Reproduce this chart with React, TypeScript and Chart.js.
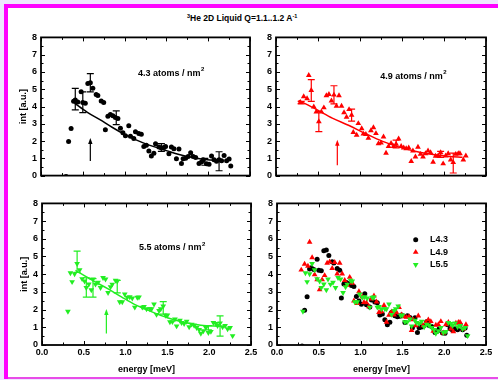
import React, { useEffect, useRef } from 'react';
import { Chart, registerables } from 'chart.js';

Chart.register(...registerables);

const FONT = '"Liberation Sans", Arial, Helvetica, sans-serif';
const BLACK = '#000000';
const RED = '#ff0000';
const GREEN = '#22ee22';

// ---- axis ticks ----
const X_MAJOR = [0, 0.5, 1.0, 1.5, 2.0, 2.5];
const X_LABELS = ['0.0', '0.5', '1.0', '1.5', '2.0', '2.5'];
const X_MINOR = [0.25, 0.75, 1.25, 1.75, 2.25];
const Y_MAJOR = [0, 1, 2, 3, 4, 5, 6, 7, 8];
const Y_LABELS = ['0', '1', '2', '3', '4', '5', '6', '7', '8'];
const Y_MINOR = [0.5, 1.5, 2.5, 3.5, 4.5, 5.5, 6.5, 7.5];

// ---- L4.3 (black) ----
const x43 = [0.30, 0.33, 0.36, 0.39, 0.41, 0.44, 0.48, 0.50, 0.53, 0.56, 0.59, 0.62, 0.66, 0.68, 0.72, 0.75, 0.77, 0.80, 0.83, 0.86, 0.89, 0.92, 0.95, 0.98, 1.01, 1.05, 1.07, 1.11, 1.13, 1.17, 1.20, 1.23, 1.26, 1.29, 1.32, 1.35, 1.37, 1.41, 1.44, 1.47, 1.49, 1.53, 1.56, 1.59, 1.62, 1.65, 1.68, 1.70, 1.73, 1.76, 1.79, 1.82, 1.85, 1.89, 1.92, 1.94, 1.98, 2.01, 2.04, 2.07, 2.10, 2.13, 2.16, 2.19, 2.22, 2.25, 2.27];
const y43 = [-0.05, 1.97, 2.72, 4.30, 4.37, 4.26, 4.85, 4.23, 4.19, 5.33, 5.37, 5.06, 4.70, 4.63, 4.32, 4.23, 2.65, 3.44, 3.53, 3.46, 3.36, 3.31, 2.74, 2.48, 2.30, 2.89, 2.28, 2.15, 2.54, 2.43, 2.39, 1.69, 1.75, 1.43, 1.14, 1.29, 1.84, 1.65, 1.60, 1.62, 1.69, 1.27, 1.65, 1.56, 0.97, 1.54, 0.70, 0.97, 1.01, 1.10, 1.32, 1.10, 1.05, 0.70, 0.79, 0.92, 0.68, 0.66, 1.14, 0.92, 0.83, 0.92, 0.86, 1.16, 0.86, 0.96, 0.55];
const ex43 = [0.41, 0.50, 0.59, 0.90, 1.44, 1.96, 2.13];
const elo43 = [3.80, 3.65, 4.85, 2.95, 1.40, 0.60, 0.28];
const ehi43 = [5.05, 4.85, 5.90, 3.75, 1.85, 1.00, 1.38];
const fx43 = [0.40, 0.55, 0.71, 0.85, 1.00, 1.23, 1.51, 1.75, 1.99, 2.11];
const fy43 = [4.19, 3.68, 3.22, 2.80, 2.39, 1.88, 1.43, 1.10, 0.92, 0.88];

// ---- L4.9 (red) ----
const x49 = [0.29, 0.33, 0.37, 0.39, 0.42, 0.45, 0.48, 0.51, 0.54, 0.57, 0.60, 0.63, 0.66, 0.69, 0.72, 0.75, 0.78, 0.81, 0.84, 0.87, 0.90, 0.92, 0.96, 0.98, 1.02, 1.04, 1.07, 1.10, 1.13, 1.16, 1.19, 1.22, 1.25, 1.28, 1.31, 1.34, 1.37, 1.40, 1.43, 1.46, 1.49, 1.52, 1.55, 1.58, 1.61, 1.63, 1.66, 1.69, 1.72, 1.75, 1.78, 1.81, 1.84, 1.87, 1.90, 1.93, 1.96, 1.99, 2.02, 2.05, 2.08, 2.11, 2.14, 2.17, 2.19, 2.23, 2.26];
const y49 = [4.24, 4.57, 4.46, 5.81, 4.94, 3.98, 3.69, 3.13, 3.69, 3.93, 4.63, 4.70, 4.33, 4.67, 4.02, 4.63, 4.02, 3.65, 3.39, 3.83, 3.50, 2.50, 2.35, 3.02, 2.72, 2.41, 2.39, 2.17, 2.61, 2.78, 2.44, 1.85, 1.89, 2.24, 1.30, 1.69, 1.87, 1.70, 1.83, 2.13, 1.70, 1.61, 1.57, 1.61, 0.83, 1.43, 1.09, 1.65, 1.24, 1.09, 1.28, 1.43, 1.33, 0.78, 1.13, 1.15, 1.33, 0.69, 1.15, 1.28, 0.91, 0.76, 1.24, 1.28, 1.28, 0.91, 1.15];
const ex49 = [0.30, 0.42, 0.51, 0.69, 0.90, 1.43, 1.96, 2.11];
const elo49 = [4.15, 4.30, 2.55, 4.15, 3.15, 1.60, 1.05, 0.15];
const ehi49 = [4.30, 5.55, 3.70, 5.20, 3.85, 2.05, 1.40, 1.30];
const fx49 = [0.27, 0.48, 0.67, 0.87, 1.07, 1.27, 1.47, 1.67, 1.87, 2.06, 2.22];
const fy49 = [4.35, 3.83, 3.33, 2.90, 2.42, 1.98, 1.65, 1.39, 1.22, 1.11, 1.06];

// ---- L5.5 (green) ----
const x55 = [0.31, 0.34, 0.36, 0.39, 0.42, 0.45, 0.48, 0.51, 0.53, 0.56, 0.59, 0.61, 0.64, 0.67, 0.70, 0.73, 0.76, 0.79, 0.82, 0.84, 0.88, 0.90, 0.93, 0.96, 0.99, 1.02, 1.05, 1.08, 1.11, 1.14, 1.16, 1.20, 1.22, 1.25, 1.29, 1.31, 1.34, 1.37, 1.40, 1.42, 1.45, 1.48, 1.50, 1.53, 1.56, 1.59, 1.61, 1.65, 1.67, 1.70, 1.73, 1.76, 1.79, 1.82, 1.85, 1.88, 1.90, 1.93, 1.96, 1.99, 2.02, 2.05, 2.08, 2.10, 2.13, 2.16, 2.19, 2.22, 2.25, 2.28];
const y55 = [1.90, 4.07, 3.57, 4.02, 4.60, 4.24, 3.74, 3.61, 3.24, 3.44, 3.11, 3.72, 3.43, 3.54, 3.24, 3.80, 3.72, 2.96, 3.28, 3.43, 3.65, 3.61, 2.43, 2.43, 2.87, 2.69, 2.72, 2.65, 2.13, 2.69, 2.70, 2.13, 2.17, 2.04, 2.04, 2.04, 2.31, 1.72, 1.94, 2.04, 2.19, 1.67, 1.69, 1.30, 1.31, 1.46, 1.07, 1.39, 1.26, 1.20, 1.33, 1.02, 1.17, 1.11, 0.98, 0.87, 0.65, 0.80, 0.98, 0.70, 0.76, 1.26, 1.20, 1.09, 1.24, 1.02, 1.09, 0.91, 0.98, 0.52];
const ex55 = [0.42, 0.53, 0.61, 0.90, 1.45, 1.99, 2.13];
const elo55 = [4.10, 2.70, 2.70, 2.95, 1.75, 0.85, 0.50];
const ehi55 = [5.30, 3.80, 3.75, 3.65, 2.45, 1.10, 1.65];
const fx55 = [0.40, 0.60, 0.78, 0.95, 1.10, 1.30, 1.50, 1.70, 1.90, 2.14];
const fy55 = [4.22, 3.66, 3.20, 2.72, 2.31, 1.90, 1.54, 1.28, 1.11, 1.06];

// ---- arrows (x, from y, to y) ----
const arrow43 = [0.59, 0.84, 2.18];
const arrow49 = [0.73, 0.60, 2.07];
const arrow55 = [0.77, 0.65, 2.04];

// ---- legend ----
const LEGEND_LABELS = ['L4.3', 'L4.9', 'L5.5'];

type Err = { x: number[]; lo: number[]; hi: number[]; color: string };
type Note = { text: string; sup: string; x: number; y: number };
type Cfg = {
  left: number; top: number; w: number; h: number;
  xH: number; showX: boolean; showYTitle: boolean;
  datasets: any[]; errs: Err[];
  arrow?: { v: number[]; color: string };
  note?: Note;
  legend?: boolean;
};

const zip = (xs: number[], ys: number[]) => xs.map((x, i) => ({ x, y: ys[i] }));

const pts = (xs: number[], ys: number[], color: string, style: string, rot: number, r: number, order: number) => ({
  data: zip(xs, ys),
  showLine: false,
  pointStyle: style,
  pointRotation: rot,
  pointRadius: r,
  pointHoverRadius: r,
  pointBackgroundColor: color,
  pointBorderColor: color,
  pointBorderWidth: 0,
  backgroundColor: color,
  borderColor: color,
  order,
});

const fit = (xs: number[], ys: number[], color: string) => ({
  data: zip(xs, ys),
  showLine: true,
  pointRadius: 0,
  pointHoverRadius: 0,
  borderColor: color,
  borderWidth: 1.5,
  cubicInterpolationMode: 'monotone',
  fill: false,
  order: 0,
});

function makePlugin(cfg: Cfg) {
  return {
    id: 'panelDecor',
    beforeDatasetsDraw(chart: any) {
      const ctx = chart.ctx;
      const xs = chart.scales.x;
      const ys = chart.scales.y;
      ctx.save();
      for (const e of cfg.errs) {
        ctx.strokeStyle = e.color;
        ctx.lineWidth = 1.2;
        e.x.forEach((xv, i) => {
          const px = xs.getPixelForValue(xv);
          const lo = ys.getPixelForValue(e.lo[i]);
          const hi = ys.getPixelForValue(e.hi[i]);
          ctx.beginPath();
          ctx.moveTo(px, lo);
          ctx.lineTo(px, hi);
          ctx.moveTo(px - 3.5, lo);
          ctx.lineTo(px + 3.5, lo);
          ctx.moveTo(px - 3.5, hi);
          ctx.lineTo(px + 3.5, hi);
          ctx.stroke();
        });
      }
      ctx.restore();
    },
    afterDatasetsDraw(chart: any) {
      const ctx = chart.ctx;
      const xs = chart.scales.x;
      const ys = chart.scales.y;
      const { left, right, top, bottom } = chart.chartArea;
      ctx.save();
      // arrow
      if (cfg.arrow) {
        const [av, a0, a1] = cfg.arrow.v;
        const px = xs.getPixelForValue(av);
        const p0 = ys.getPixelForValue(a0);
        const p1 = ys.getPixelForValue(a1);
        ctx.strokeStyle = cfg.arrow.color;
        ctx.fillStyle = cfg.arrow.color;
        ctx.lineWidth = 1.2;
        ctx.beginPath();
        ctx.moveTo(px, p0);
        ctx.lineTo(px, p1 + 4);
        ctx.stroke();
        ctx.beginPath();
        ctx.moveTo(px, p1);
        ctx.lineTo(px - 2.2, p1 + 6);
        ctx.lineTo(px + 2.2, p1 + 6);
        ctx.closePath();
        ctx.fill();
      }
      // annotation
      if (cfg.note) {
        const n = cfg.note;
        const px = xs.getPixelForValue(n.x);
        const py = ys.getPixelForValue(n.y);
        ctx.fillStyle = BLACK;
        ctx.textBaseline = 'middle';
        ctx.textAlign = 'left';
        ctx.font = `bold 9px ${FONT}`;
        ctx.fillText(n.text, px, py);
        const w = ctx.measureText(n.text).width;
        ctx.font = `bold 6px ${FONT}`;
        ctx.fillText(n.sup, px + w + 0.5, py - 3.5);
      }
      // legend
      if (cfg.legend) {
        const colors = [BLACK, RED, GREEN];
        LEGEND_LABELS.forEach((lab, i) => {
          const mx = left + 138.7;
          const my = top + 36.3 + i * 12.5;
          ctx.fillStyle = colors[i];
          ctx.beginPath();
          if (i === 0) {
            ctx.arc(mx, my, 2.5, 0, Math.PI * 2);
          } else {
            const r = 3.3;
            const s = i === 2 ? -1 : 1;
            ctx.moveTo(mx, my - s * r);
            ctx.lineTo(mx + r * 0.866, my + s * r * 0.5);
            ctx.lineTo(mx - r * 0.866, my + s * r * 0.5);
            ctx.closePath();
          }
          ctx.fill();
          ctx.fillStyle = BLACK;
          ctx.font = `bold 9px ${FONT}`;
          ctx.textBaseline = 'middle';
          ctx.textAlign = 'left';
          ctx.fillText(lab, left + 153, my);
        });
      }
      // inward ticks on all four sides
      ctx.strokeStyle = BLACK;
      ctx.lineWidth = 1;
      const line = (x1: number, y1: number, x2: number, y2: number) => {
        ctx.beginPath();
        ctx.moveTo(x1, y1);
        ctx.lineTo(x2, y2);
        ctx.stroke();
      };
      const xt = (vals: number[], len: number) => vals.forEach((v) => {
        const px = Math.round(xs.getPixelForValue(v)) + 0.5;
        line(px, bottom, px, bottom - len);
        line(px, top, px, top + len);
      });
      const yt = (vals: number[], len: number) => vals.forEach((v) => {
        const py = Math.round(ys.getPixelForValue(v)) + 0.5;
        line(left, py, left + len, py);
        line(right, py, right - len, py);
      });
      xt(X_MAJOR, 4);
      xt(X_MINOR, 2.5);
      yt(Y_MAJOR, 4);
      yt(Y_MINOR, 2.5);
      // frame
      ctx.lineWidth = 1.8;
      ctx.strokeRect(left, top, right - left, bottom - top);
      ctx.restore();
    },
  };
}

function Panel({ cfg }: { cfg: Cfg }) {
  const ref = useRef<HTMLCanvasElement | null>(null);
  useEffect(() => {
    const tickFont = { family: FONT, size: 9, weight: 'bold' as const };
    const chart = new Chart(ref.current as HTMLCanvasElement, {
      type: 'scatter',
      data: { datasets: cfg.datasets },
      options: {
        responsive: false,
        animation: false,
        devicePixelRatio: 1,
        events: [],
        layout: { padding: { left: 0, top: 8, right: 10, bottom: 0 } },
        plugins: { legend: { display: false }, tooltip: { enabled: false }, title: { display: false } },
        scales: {
          x: {
            type: 'linear',
            min: 0,
            max: 2.5,
            afterBuildTicks: (s: any) => { s.ticks = X_MAJOR.map((v) => ({ value: v })); },
            afterFit: (s: any) => { s.height = cfg.xH; },
            ticks: {
              display: cfg.showX,
              font: tickFont,
              color: BLACK,
              padding: 2,
              maxRotation: 0,
              autoSkip: false,
              callback: (_v: any, i: number) => X_LABELS[i],
            },
            grid: { display: false, drawTicks: false },
            border: { display: false },
            title: {
              display: cfg.showX,
              text: 'energy [meV]',
              color: BLACK,
              font: tickFont,
              padding: { top: 0, bottom: 1 },
            },
          },
          y: {
            type: 'linear',
            min: 0,
            max: 8,
            afterBuildTicks: (s: any) => { s.ticks = Y_MAJOR.map((v) => ({ value: v })); },
            afterFit: (s: any) => { s.width = 33; },
            ticks: {
              font: tickFont,
              color: BLACK,
              padding: 4,
              autoSkip: false,
              callback: (_v: any, i: number) => Y_LABELS[i],
            },
            grid: { display: false, drawTicks: false },
            border: { display: false },
            title: {
              display: cfg.showYTitle,
              text: 'int [a.u.]',
              color: BLACK,
              font: tickFont,
              padding: { top: 10.6, bottom: 0 },
            },
          },
        },
      } as any,
      plugins: [makePlugin(cfg)],
    });
    return () => chart.destroy();
  }, []);
  return (
    <canvas
      ref={ref}
      width={cfg.w}
      height={cfg.h}
      style={{ position: 'absolute', left: cfg.left, top: cfg.top, width: cfg.w, height: cfg.h }}
    />
  );
}

const panels: Cfg[] = [
  {
    left: 8, top: 28, w: 252, h: 157, xH: 6, showX: false, showYTitle: true,
    datasets: [pts(x43, y43, BLACK, 'circle', 0, 2.5, 1), fit(fx43, fy43, BLACK)],
    errs: [{ x: ex43, lo: elo43, hi: ehi43, color: BLACK }],
    arrow: { v: arrow43, color: BLACK },
    note: { text: '4.3 atoms / nm', sup: '2', x: 1.16, y: 5.93 },
  },
  {
    left: 243, top: 28, w: 253, h: 157, xH: 6, showX: false, showYTitle: false,
    datasets: [pts(x49, y49, RED, 'triangle', 0, 3.3, 1), fit(fx49, fy49, RED)],
    errs: [{ x: ex49, lo: elo49, hi: ehi49, color: RED }],
    arrow: { v: arrow49, color: RED },
    note: { text: '4.9 atoms / nm', sup: '2', x: 1.24, y: 5.76 },
  },
  {
    left: 9, top: 194, w: 252, h: 182, xH: 31, showX: true, showYTitle: true,
    datasets: [pts(x55, y55, GREEN, 'triangle', 180, 3.3, 1), fit(fx55, fy55, GREEN)],
    errs: [{ x: ex55, lo: elo55, hi: ehi55, color: GREEN }],
    arrow: { v: arrow55, color: GREEN },
    note: { text: '5.5 atoms / nm', sup: '2', x: 1.16, y: 5.5 },
  },
  {
    left: 244, top: 194, w: 252, h: 182, xH: 31, showX: true, showYTitle: false,
    datasets: [
      pts(x43, y43, BLACK, 'circle', 0, 2.5, 3),
      pts(x49, y49, RED, 'triangle', 0, 3.3, 2),
      pts(x55, y55, GREEN, 'triangle', 180, 3.3, 1),
    ],
    errs: [],
    legend: true,
  },
];

const supStyle: React.CSSProperties = { fontSize: 5.5, position: 'relative', top: -3 };

export default function App() {
  return (
    <div style={{ position: 'fixed', left: 0, top: 0, right: 0, bottom: 0, background: '#ffffff', overflow: 'hidden' }}>
      {/* lavender outer strips */}
      <div style={{ position: 'absolute', left: 0, top: 0, right: 0, height: 4, background: '#eee6fe' }} />
      <div style={{ position: 'absolute', left: 0, top: 0, width: 4, bottom: 0, background: '#eee6fe' }} />
      <div style={{ position: 'absolute', left: 0, top: 378.5, right: 0, bottom: 0, background: '#eee6fe' }} />
      {/* magenta strips */}
      <div style={{ position: 'absolute', left: 4, top: 4, right: 0, height: 4, background: '#ff00ff' }} />
      <div style={{ position: 'absolute', left: 4, top: 4, width: 4, height: 374.5, background: '#ff00ff' }} />
      <div style={{ position: 'absolute', left: 8, top: 377, right: 0, height: 1.5, background: '#e84ce8' }} />
      <div
        style={{
          position: 'absolute', left: 187, top: 12, fontFamily: FONT, fontWeight: 'bold',
          fontSize: 8.5, lineHeight: '12px', whiteSpace: 'nowrap', color: BLACK,
        }}
      >
        <span style={supStyle}>3</span>He 2D Liquid Q=1.1..1.2 A<span style={supStyle}>-1</span>
      </div>
      {panels.map((p, i) => (
        <Panel key={i} cfg={p} />
      ))}
    </div>
  );
}
